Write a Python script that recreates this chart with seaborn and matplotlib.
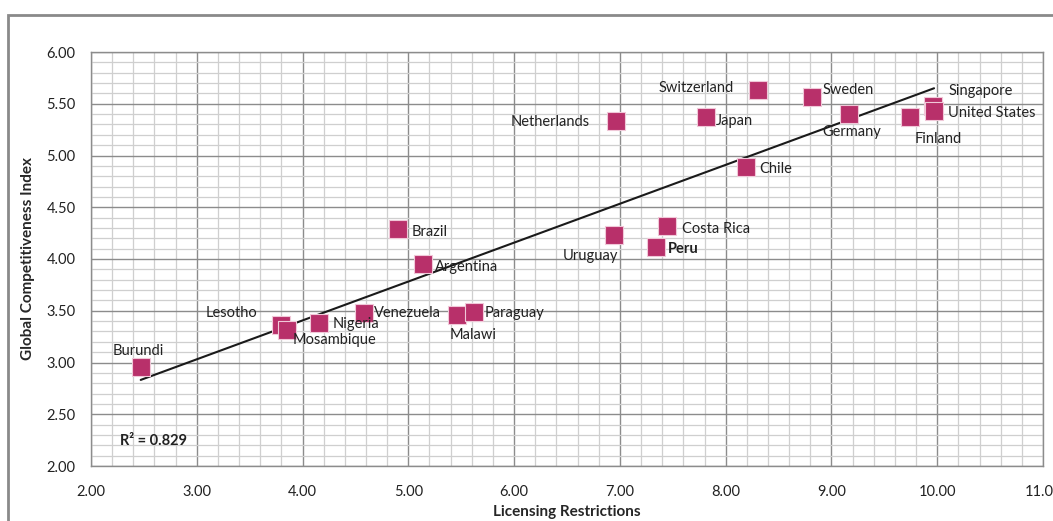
import numpy as np
import pandas as pd
import matplotlib
matplotlib.use("Agg")
import matplotlib.pyplot as plt
from matplotlib.patches import Rectangle
from matplotlib.ticker import MultipleLocator
import seaborn as sns

# Data
countries = ['Burundi', 'Lesotho', 'Mosambique', 'Nigeria', 'Venezuela', 'Malawi',
             'Paraguay', 'Brazil', 'Argentina', 'Uruguay', 'Peru', 'Costa Rica',
             'Chile', 'Netherlands', 'Japan', 'Switzerland', 'Sweden', 'Germany',
             'Finland', 'Singapore', 'United States']
licensing = [2.47, 3.80, 3.85, 4.16, 4.58, 5.46, 5.62, 4.90, 5.14, 6.94, 7.34, 7.45,
             8.19, 6.96, 7.81, 8.31, 8.82, 9.17, 9.74, 9.96, 9.97]
gci = [2.96, 3.36, 3.31, 3.38, 3.48, 3.46, 3.49, 4.29, 3.95, 4.23, 4.12, 4.32,
       4.89, 5.33, 5.37, 5.63, 5.57, 5.40, 5.37, 5.48, 5.43]
r2_text = 'R² = 0.829'

df = pd.DataFrame({'country': countries, 'licensing': licensing, 'gci': gci})

# label offsets in pixels (dx, dy, ha)
label_pos = {
    'Burundi': (-2, 16, 'center'), 'Lesotho': (-24, 12, 'right'),
    'Mosambique': (6, -10, 'left'), 'Nigeria': (13, -1, 'left'),
    'Venezuela': (10, 0, 'left'), 'Malawi': (16, -20, 'center'),
    'Paraguay': (11, -1, 'left'), 'Brazil': (14, -3, 'left'),
    'Argentina': (12, -3, 'left'), 'Uruguay': (5, -21, 'right'),
    'Peru': (12, -2, 'left'), 'Costa Rica': (15, -3, 'left'),
    'Chile': (13, -2, 'left'), 'Netherlands': (-26, -1, 'right'),
    'Japan': (10, -4, 'left'), 'Switzerland': (-25, 2, 'right'),
    'Sweden': (10, 7, 'left'), 'Germany': (-27, -18, 'left'),
    'Finland': (5, -22, 'left'), 'Singapore': (16, 15, 'left'),
    'United States': (14, -2, 'left'),
}

sns.set_style("white")
plt.rcParams['font.family'] = ['Lato', 'DejaVu Sans']

fig = plt.figure(figsize=(10.53, 5.21), dpi=100)
ax = fig.add_axes([91 / 1053, 1 - 466 / 521, (1043 - 91) / 1053, (466 - 52) / 521])

# outer chart frame (cropped on right and bottom)
fig.patches.append(Rectangle((8 / 1053, -0.1), 1.2, 1.1 - 15 / 521, transform=fig.transFigure,
                             fill=False, edgecolor='#8a8a8a', linewidth=2, zorder=0))

ax.set_xlim(2, 11)
ax.set_ylim(2, 6)
ax.xaxis.set_major_locator(MultipleLocator(1))
ax.xaxis.set_minor_locator(MultipleLocator(0.2))
ax.yaxis.set_major_locator(MultipleLocator(0.5))
ax.yaxis.set_minor_locator(MultipleLocator(0.1))
ax.grid(which='major', color='#8c8c8c', linewidth=1.0, zorder=0)
ax.grid(which='minor', color='#cfcfcf', linewidth=0.9, zorder=0)
ax.set_axisbelow(True)
for s in ax.spines.values():
    s.set_color('#8c8c8c')
    s.set_linewidth(1.0)
ax.tick_params(axis='both', which='major', direction='out', length=5, width=1,
               color='#8c8c8c', labelsize=10.5, labelcolor='#222222', pad=6)
ax.tick_params(axis='x', which='major', pad=9)
ax.tick_params(axis='y', which='minor', direction='inout', length=5, width=1, color='#8c8c8c')
ax.tick_params(axis='x', which='minor', length=0)
ax.xaxis.set_major_formatter(lambda v, p: f'{v:.2f}')
ax.yaxis.set_major_formatter(lambda v, p: f'{v:.2f}')

# trend line
coef = np.polyfit(df['licensing'], df['gci'], 1)
xs = np.array([df['licensing'].min(), df['licensing'].max()])
ax.plot(xs, np.polyval(coef, xs), color='#1a1a1a', linewidth=1.5, zorder=2)

sns.scatterplot(data=df, x='licensing', y='gci', ax=ax, marker='s', s=150,
                color='#b8306a', edgecolor='#f0c8d8', linewidth=0.8, zorder=3, legend=False)

for c, x, y in zip(countries, licensing, gci):
    dx, dy, ha = label_pos[c]
    ax.annotate(c, (x, y), xytext=(dx, dy), textcoords='offset pixels', ha=ha, va='center',
                fontsize=10.5, color='#222222', fontweight='bold' if c == 'Peru' else 'normal',
                zorder=4)

ax.text(120 / 1053, 1 - 441 / 521, r2_text, transform=fig.transFigure, fontsize=10.5,
        fontweight='bold', color='#222222', ha='left', va='center')

ax.set_xlabel('Licensing Restrictions', fontsize=11, fontweight='bold', labelpad=4)
ax.set_ylabel('Global Competitiveness Index', fontsize=11, fontweight='bold', labelpad=8)

fig.savefig('out.png', dpi=100)
